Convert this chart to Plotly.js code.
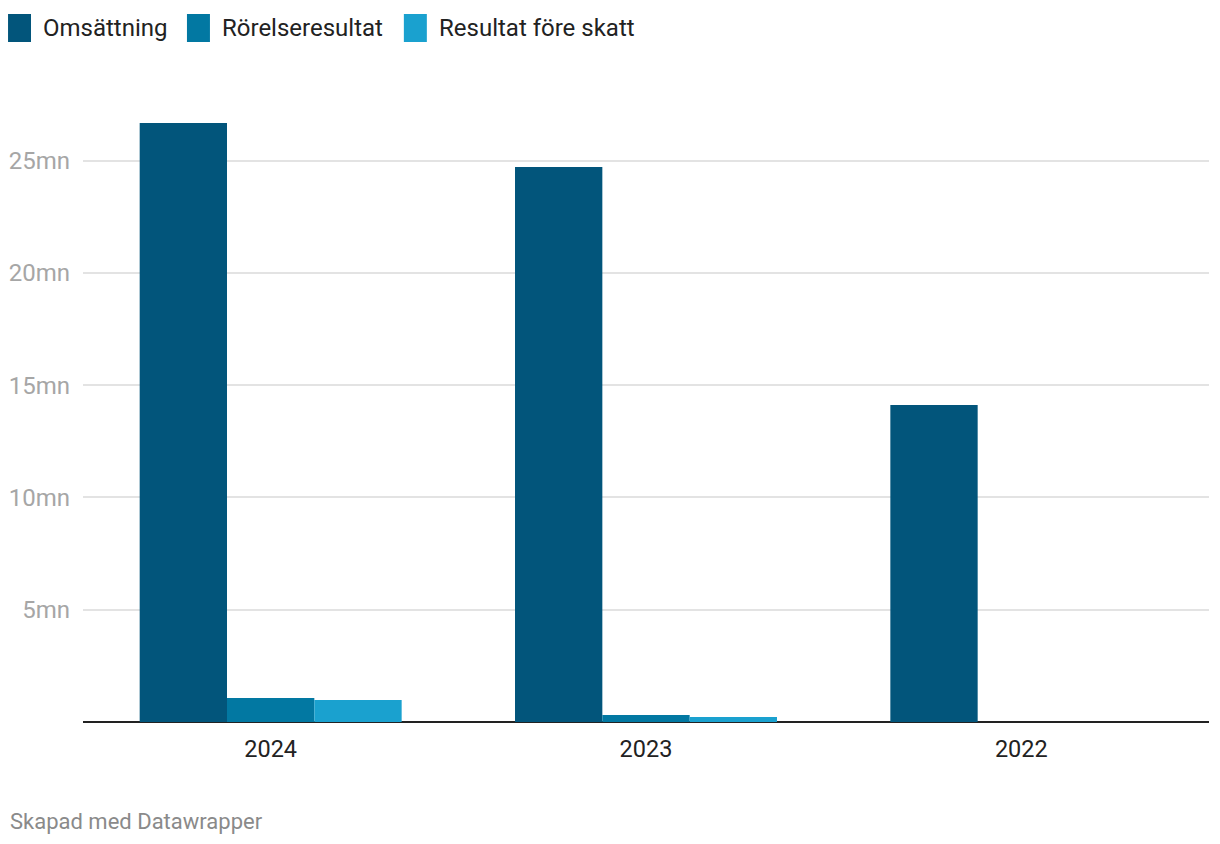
<!DOCTYPE html>
<html>
<head>
<meta charset="utf-8">
<script src="https://cdn.plot.ly/plotly-3.0.1.min.js"></script>
<style>
  html, body { margin: 0; padding: 0; background: #ffffff; }
  #chart { width: 1220px; height: 844px; }
</style>
</head>
<body>
<div id="chart"></div>
<script>
// Data (values in millions)
const years = ["2024", "2023", "2022"];
const seriesNames = ["Omsättning", "Rörelseresultat", "Resultat före skatt"];
const omsattning = [26.68, 24.72, 14.12];
const rorelseresultat = [1.07, 0.31, 0];
const resultatForeSkatt = [0.98, 0.22, 0];
const yTickValues = [5, 10, 15, 20, 25];
const yTickLabels = ["5mn", "10mn", "15mn", "20mn", "25mn"];
const colors = ["#02557b", "#0278a2", "#1aa1cf"];

const W = 1220, H = 844;
const M = {l: 83, r: 10.5, t: 100, b: 122};
const plotW = W - M.l - M.r, plotH = H - M.t - M.b;
const px2x = px => (px - M.l) / plotW;
const py2y = py => (H - M.b - py) / plotH;

const seriesValues = [omsattning, rorelseresultat, resultatForeSkatt];
const traces = seriesValues.map((vals, i) => ({
  type: "bar",
  name: seriesNames[i],
  x: years,
  y: vals,
  marker: {color: colors[i], line: {width: 0}},
  hoverinfo: "x+y+name"
}));

// custom legend (swatch + label)
const legendX = [8, 187, 404];
const shapes = [];
const annotations = [];
seriesNames.forEach((n, i) => {
  shapes.push({
    type: "rect", xref: "paper", yref: "paper",
    x0: px2x(legendX[i]), x1: px2x(legendX[i] + 23),
    y0: py2y(42), y1: py2y(14),
    fillcolor: colors[i], line: {width: 0}
  });
  annotations.push({
    xref: "paper", yref: "paper", x: px2x(legendX[i] + 33), y: py2y(28),
    xanchor: "left", yanchor: "middle", showarrow: false,
    text: n, font: {family: "Roboto", size: 24, color: "#222222"}
  });
});
annotations.push({
  xref: "paper", yref: "paper", x: px2x(8), y: py2y(821),
  xanchor: "left", yanchor: "middle", showarrow: false,
  text: "Skapad med Datawrapper", font: {family: "Roboto", size: 22, color: "#8a8a8a"}
});

const layout = {
  width: W, height: H,
  margin: M,
  paper_bgcolor: "#ffffff", plot_bgcolor: "#ffffff",
  showlegend: false,
  barmode: "group",
  bargap: 0.302, bargroupgap: 0,
  font: {family: "Roboto", color: "#222222"},
  xaxis: {
    type: "category",
    showgrid: false, zeroline: false, showline: false,
    ticks: "", ticklabelstandoff: 10,
    tickfont: {family: "Roboto", size: 23.5, color: "#222222"},
    fixedrange: true
  },
  yaxis: {
    range: [0, plotH / 22.452],
    tickvals: yTickValues, ticktext: yTickLabels,
    showgrid: true, gridcolor: "#e3e3e3", gridwidth: 2,
    zeroline: true, zerolinecolor: "#222222", zerolinewidth: 2,
    showline: false, ticks: "", ticklabelstandoff: 12,
    tickfont: {family: "Roboto", size: 24, color: "#a6a6a6"},
    fixedrange: true
  },
  shapes: shapes,
  annotations: annotations
};

Plotly.newPlot("chart", traces, layout, {displayModeBar: false, staticPlot: true});
</script>
</body>
</html>
